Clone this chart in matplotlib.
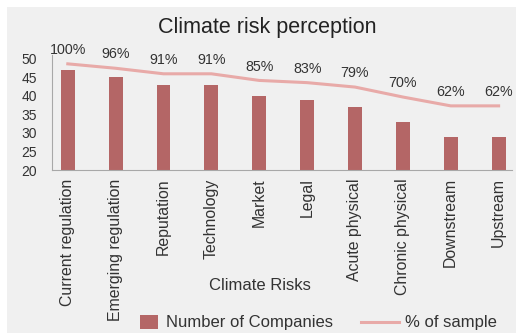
import matplotlib.pyplot as plt
from matplotlib.patches import Rectangle
from matplotlib.lines import Line2D

plt.rcParams['font.family'] = ['Liberation Sans', 'DejaVu Sans']

risks = ['Current regulation', 'Emerging regulation', 'Reputation', 'Technology',
         'Market', 'Legal', 'Acute physical', 'Chronic physical', 'Downstream', 'Upstream']
companies = [47, 45, 43, 43, 40, 39, 37, 33, 29, 29]
pct_sample = [100, 96, 91, 91, 85, 83, 79, 70, 62, 62]

bar_color = '#b46666'
line_color = '#e8aaa8'
bg = '#f0f0f0'
txt = '#333333'

W, H = 521, 335
fig = plt.figure(figsize=(W / 100, H / 100), dpi=100)
fig.patch.set_facecolor('white')
fig.patches.append(Rectangle((7 / W, 2 / H), 509 / W, 326 / H,
                             transform=fig.transFigure, facecolor=bg,
                             edgecolor='none', zorder=-10))

ax = fig.add_axes([52 / W, 1 - 170 / H, 460 / W, 115 / H])
ax.set_facecolor('none')
x = list(range(len(risks)))
ax.bar(x, companies, width=0.29, color=bar_color, zorder=2)
ax.set_ylim(20, 51)
ax.set_xlim(-0.33, 9.28)
ax.set_yticks([20, 25, 30, 35, 40, 45, 50])
ax.set_xticks(x)
ax.set_xticklabels(risks, rotation=90, fontsize=11.4, color=txt)
ax.tick_params(axis='y', length=0, labelsize=10, labelcolor=txt, pad=11)
ax.tick_params(axis='x', length=0, pad=6)
for s in ['top', 'right']:
    ax.spines[s].set_visible(False)
ax.spines['left'].set_color('#a8a8a8')
ax.spines['bottom'].set_color('#a8a8a8')

# percentage line on a hidden secondary axis
ax2 = ax.twinx()
ax2.plot(x, pct_sample, color=line_color, lw=2.2, zorder=3)
ax2.set_ylim(4, 108)
ax2.axis('off')
for xi, p in zip(x, pct_sample):
    ax2.annotate(f'{p}%', (xi, p), xytext=(0, 10), textcoords='offset points',
                 ha='center', va='center', fontsize=10.3, color=txt)

fig.text(267 / W, 1 - 27 / H, 'Climate risk perception', ha='center',
         va='center', fontsize=15.5, color='#222222')
fig.text(260 / W, 1 - 285 / H, 'Climate Risks', ha='center', va='center',
         fontsize=12, color=txt)

# legend drawn as figure artists
fig.patches.append(Rectangle((140 / W, 1 - 329 / H), 18 / W, 14 / H,
                             transform=fig.transFigure, facecolor=bar_color,
                             edgecolor='none'))
fig.lines.append(Line2D([361 / W, 399 / W], [1 - 322 / H] * 2,
                        transform=fig.transFigure, color=line_color, lw=2.2))
fig.text(166 / W, 1 - 322 / H, 'Number of Companies', va='center',
         fontsize=12, color=txt)
fig.text(405 / W, 1 - 322 / H, '% of sample', va='center',
         fontsize=12, color=txt)

fig.savefig('out.png', dpi=100)
